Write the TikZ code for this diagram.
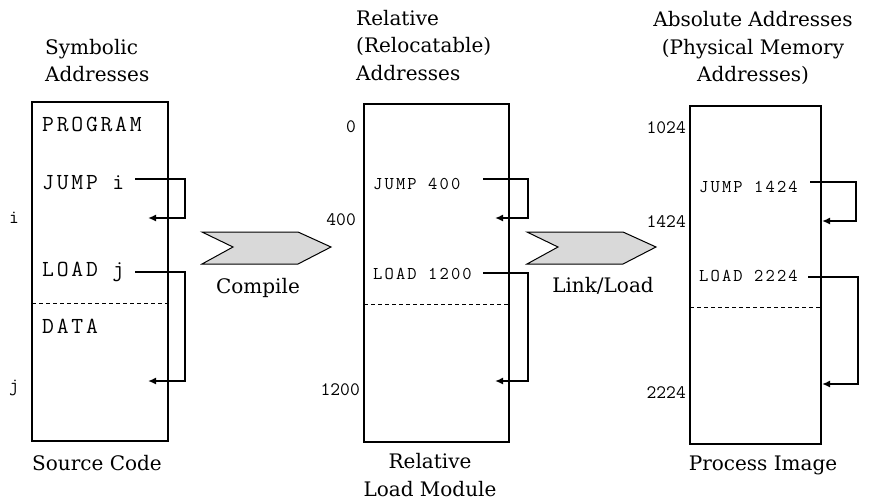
\documentclass[tikz,border=0pt]{standalone}
\usepackage{fontspec}
\setmainfont{DejaVu Serif}
\newfontfamily\monoA[LetterSpace=12]{Latin Modern Mono}
\newfontfamily\monoB[LetterSpace=12]{Latin Modern Mono}
\newfontfamily\monoN{Latin Modern Mono}
\usetikzlibrary{arrows.meta}
\begin{document}
\begin{tikzpicture}[x=1pt,y=-1pt,
  ttl/.style={inner sep=0pt, font=\fontsize{20}{27.5}\selectfont},
  codeA/.style={inner sep=0pt, anchor=west, font=\monoA\fontsize{23}{24}\selectfont},
  codeB/.style={inner sep=0pt, anchor=west, font=\monoB\fontsize{18}{19}\selectfont},
  num/.style={inner sep=0pt, anchor=east, font=\monoN\fontsize{19}{20}\selectfont},
  mem/.style={draw, line width=1.2pt, inner sep=0pt},
  sep/.style={dashed, line width=1pt, dash pattern=on 4pt off 3pt},
  conn/.style={line width=1.8pt, -{Latex[length=8pt,width=7pt]}},
  chev/.style={draw, line width=1pt, fill=black!15, line join=miter}]
\useasboundingbox (0,0) rectangle (870,501);

% ---------- Box 1 : source code ----------
\node[ttl, anchor=west, align=left] (t1) at (45,60.5) {Symbolic\\Addresses};
\node[mem, minimum width=136pt, minimum height=339pt] (b1) at (100,271.5) {};
\draw[sep] (32,303) -- (168,303);
\node[codeA] (prog) at (42,124) {PROGRAM};
\node[codeA] (jumpi) at (42,183) {JUMP i};
\node[codeA] (loadj) at (42,272) {LOAD j};
\node[codeA] (data) at (42,326) {DATA};
\node[num, anchor=center] (li) at (14,218) {i};
\node[num, anchor=center] (lj) at (14,388) {j};
\node[ttl, anchor=west] (src) at (32,463) {Source Code};
\coordinate (s1) at (135,179);
\coordinate (e1) at (148,218);
\coordinate (s2) at (135,272);
\coordinate (e2) at (148,381);
\draw[conn] (s1) -- (185,179) |- (e1);
\draw[conn] (s2) -- (185,272) |- (e2);

% ---------- Compile chevron ----------
\draw[chev] (202,232) -- (298,232) -- (331,247) -- (298,264) -- (202,264) -- (233,247) -- cycle;
\node[ttl] (comp) at (258,288) {Compile};

% ---------- Box 2 : relative load module ----------
\node[ttl, anchor=west, align=left] (t2) at (356,45.5) {Relative\\(Relocatable)\\Addresses};
\node[mem, minimum width=145pt, minimum height=338pt] (b2) at (436.5,273) {};
\draw[sep] (364,304) -- (509,304);
\node[num] (n0) at (356,127) {0};
\node[num] (n400) at (356,220) {400};
\node[num] (n1200) at (360,390) {1200};
\node[codeB] (j400) at (373,184) {JUMP 400};
\node[codeB] (l1200) at (373,274) {LOAD 1200};
\node[ttl, align=center] (rlm) at (430,475) {Relative\\Load Module};
\coordinate (s3) at (483,179);
\coordinate (e3) at (495,218);
\coordinate (s4) at (483,273);
\coordinate (e4) at (495,381);
\draw[conn] (s3) -- (528,179) |- (e3);
\draw[conn] (s4) -- (528,273) |- (e4);

% ---------- Link/Load chevron ----------
\draw[chev] (527,232) -- (623,232) -- (656,247) -- (623,264) -- (527,264) -- (558,247) -- cycle;
\node[ttl] (link) at (603,286) {Link/Load};

% ---------- Box 3 : process image ----------
\node[ttl, align=center] (t3) at (753,48) {Absolute Addresses\\(Physical Memory\\Addresses)};
\node[mem, minimum width=131pt, minimum height=338pt] (b3) at (755.5,275) {};
\draw[sep] (690,307) -- (821,307);
\node[num] (n1024) at (686,128) {1024};
\node[num] (n1424) at (686,222) {1424};
\node[num] (n2224) at (686,393) {2224};
\node[codeB] (j1424) at (699,187) {JUMP 1424};
\node[codeB] (l2224) at (699,276) {LOAD 2224};
\node[ttl] (pim) at (763,465) {Process Image};
\coordinate (s5) at (810,182);
\coordinate (e5) at (822,221);
\coordinate (s6) at (808,277);
\coordinate (e6) at (822,384);
\draw[conn] (s5) -- (856,182) |- (e5);
\draw[conn] (s6) -- (858,277) |- (e6);
\end{tikzpicture}
\end{document}
